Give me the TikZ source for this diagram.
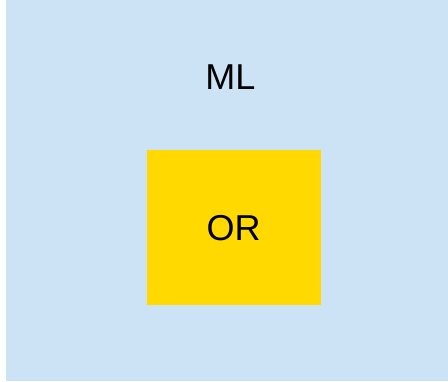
\documentclass[tikz,border=0pt]{standalone}
\usepackage{fontspec}
\setmainfont{Liberation Sans}
\begin{document}
\begin{tikzpicture}[x=1pt,y=1pt,
  lbl/.style={inner sep=0pt, anchor=base, font=\fontsize{36}{40}\selectfont, text=black}]
\useasboundingbox (0,0) rectangle (448,381);
\fill[white] (0,0) rectangle (448,381);
\fill[fill={rgb,255:red,204;green,226;blue,245}] (6,0) rectangle (448,381);
\node[fill={rgb,255:red,255;green,217;blue,0}, minimum width=174pt, minimum height=155pt, inner sep=0pt, anchor=north west] (or) at (147,231) {};
\node[lbl] (mltext) at (230.5,291) {ML};
\node[lbl] (ortext) at (233.5,140) {OR};
\end{tikzpicture}
\end{document}
